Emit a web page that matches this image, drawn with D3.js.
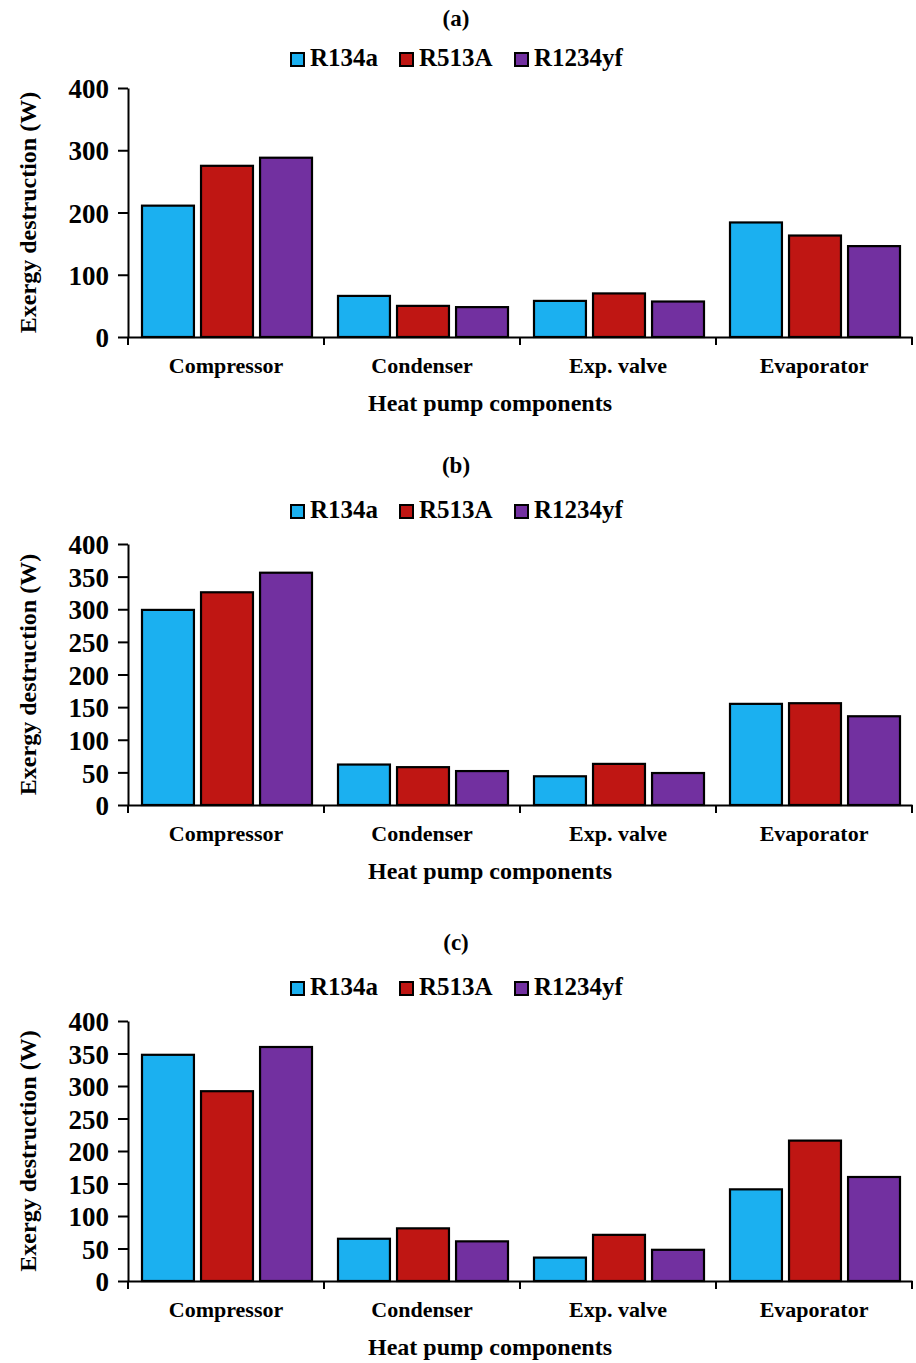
<!DOCTYPE html>
<html>
<head>
<meta charset="utf-8">
<script src="https://cdn.jsdelivr.net/npm/d3@7"></script>
<style>
  html, body { margin: 0; padding: 0; background: #fff; }
  svg { display: block; }
  text { font-family: "Liberation Serif", "Times New Roman", serif; font-weight: bold; fill: #000; }
</style>
</head>
<body>
<svg id="chart" width="916" height="1363"></svg>
<script>
// Heat pump components and refrigerants compared
const components = ["Compressor", "Condenser", "Exp. valve", "Evaporator"];
const refrigerants = ["R134a", "R513A", "R1234yf"];
const colors = ["#1bb0f0", "#bf1613", "#7230a0"];

// Exergy destruction (W), one row per refrigerant, one value per component
const panelA = [
  [211, 66, 58, 184],   // R134a
  [275, 50, 70, 163],   // R513A
  [288, 48, 57, 146]    // R1234yf
];
const panelB = [
  [299, 62, 44, 155],
  [326, 58, 63, 156],
  [356, 52, 49, 136]
];
const panelC = [
  [348, 65, 36, 141],
  [292, 81, 71, 216],
  [360, 61, 48, 160]
];

const ticksA = [0, 100, 200, 300, 400];
const ticksBC = [0, 50, 100, 150, 200, 250, 300, 350, 400];

const panelTitles = ["(a)", "(b)", "(c)"];
const yTitle = "Exergy destruction (W)";
const xTitle = "Heat pump components";

const svg = d3.select("#chart");

const layouts = [
  { title: panelTitles[0], data: panelA, ticks: ticksA, titleY: 26, legendY: 66, top: 88, bottom: 337 },
  { title: panelTitles[1], data: panelB, ticks: ticksBC, titleY: 473, legendY: 518, top: 544, bottom: 805 },
  { title: panelTitles[2], data: panelC, ticks: ticksBC, titleY: 950, legendY: 995, top: 1021, bottom: 1281 }
];

const left = 128, right = 912;

const x0 = d3.scaleBand().domain(components).range([left, right]).padding(0);
const x1 = d3.scaleBand().domain(refrigerants)
  .range([14, x0.bandwidth() - 12]).paddingInner(0.12).paddingOuter(0);
const color = d3.scaleOrdinal().domain(refrigerants).range(colors);

layouts.forEach(p => {
  const g = svg.append("g");
  const y = d3.scaleLinear().domain([0, 400]).range([p.bottom, p.top]);

  // Panel label
  g.append("text")
    .attr("x", 456).attr("y", p.titleY)
    .attr("text-anchor", "middle")
    .style("font-size", "23px")
    .text(p.title);

  // Legend
  const legendX = [291, 400, 515];
  const lg = g.append("g");
  refrigerants.forEach((r, i) => {
    lg.append("rect")
      .attr("x", legendX[i]).attr("y", p.legendY - 13)
      .attr("width", 13).attr("height", 13)
      .attr("fill", color(r)).attr("stroke", "#000").attr("stroke-width", 2);
    lg.append("text")
      .attr("x", legendX[i] + 19).attr("y", p.legendY)
      .style("font-size", "25px")
      .text(r);
  });

  // Bars
  const groups = g.append("g").selectAll("g")
    .data(components)
    .join("g")
    .attr("transform", d => `translate(${x0(d)},0)`);

  groups.selectAll("rect")
    .data((c, ci) => refrigerants.map((r, ri) => ({ r, v: p.data[ri][ci] })))
    .join("rect")
    .attr("x", d => x1(d.r))
    .attr("width", x1.bandwidth())
    .attr("y", d => y(d.v))
    .attr("height", d => y(0) - y(d.v))
    .attr("fill", d => color(d.r))
    .attr("stroke", "#000")
    .attr("stroke-width", 2.2);

  // Y axis
  const yAxis = d3.axisLeft(y).tickValues(p.ticks).tickSize(10).tickSizeOuter(0).tickPadding(9);
  const ya = g.append("g").attr("transform", `translate(${left},0)`).call(yAxis);
  ya.select(".domain").attr("stroke", "#000").attr("stroke-width", 2);
  ya.selectAll(".tick line").attr("stroke", "#000").attr("stroke-width", 2);
  ya.selectAll(".tick text")
    .style("font-size", "27px")
    .style("font-family", "'Liberation Serif', 'Times New Roman', serif")
    .style("font-weight", "bold")
    .attr("fill", "#000")
    .attr("dy", "0.36em");

  // X axis: baseline with ticks on category boundaries, labels centred
  const xAxis = d3.axisBottom(x0).tickSize(0).tickSizeOuter(0).tickPadding(20);
  const xa = g.append("g").attr("transform", `translate(0,${p.bottom})`).call(xAxis);
  xa.select(".domain").attr("stroke", "#000").attr("stroke-width", 2);
  xa.selectAll(".tick text")
    .style("font-size", "22px")
    .style("font-family", "'Liberation Serif', 'Times New Roman', serif")
    .style("font-weight", "bold")
    .attr("fill", "#000");

  const bounds = components.map(c => x0(c)).concat([x0.range()[1]]);
  g.append("g").selectAll("line")
    .data(bounds)
    .join("line")
    .attr("x1", d => d).attr("x2", d => d)
    .attr("y1", p.bottom).attr("y2", p.bottom + 8)
    .attr("stroke", "#000").attr("stroke-width", 2);

  // Axis titles
  g.append("text")
    .attr("transform", `translate(36,${(p.top + p.bottom) / 2}) rotate(-90)`)
    .attr("text-anchor", "middle")
    .style("font-size", "24px")
    .text(yTitle);

  g.append("text")
    .attr("x", 490).attr("y", p.bottom + 74)
    .attr("text-anchor", "middle")
    .style("font-size", "24px")
    .text(xTitle);
});
</script>
</body>
</html>
